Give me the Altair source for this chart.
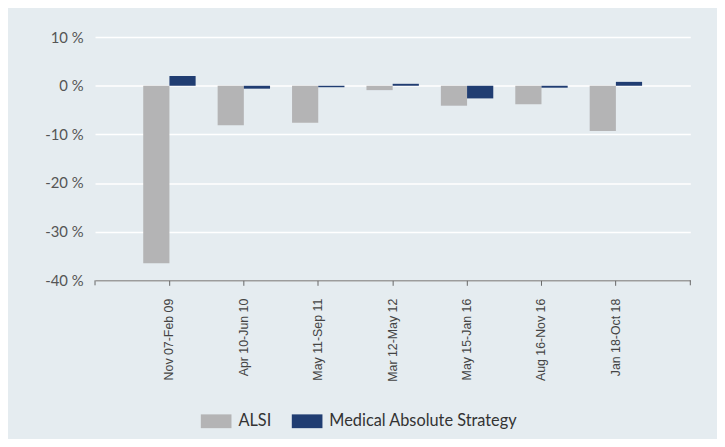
import altair as alt
import pandas as pd

periods = ["Nov 07-Feb 09", "Apr 10-Jun 10", "May 11-Sep 11", "Mar 12-May 12",
           "May 15-Jan 16", "Aug 16-Nov 16", "Jan 18-Oct 18"]
series_names = ["ALSI", "Medical Absolute Strategy"]
alsi = [-36.5, -8.1, -7.6, -0.9, -4.1, -3.8, -9.3]
mas = [2.0, -0.6, -0.3, 0.4, -2.6, -0.4, 0.8]
y_ticks = [-40, -30, -20, -10, 0, 10]
colors = ["#b4b4b5", "#203d72"]

rows = []
for p, a, m in zip(periods, alsi, mas):
    rows.append({"period": p, "series": series_names[0], "value": a})
    rows.append({"period": p, "series": series_names[1], "value": m})
df = pd.DataFrame(rows)

W, H = 602, 246

bars = alt.Chart(df).mark_bar().encode(
    x=alt.X("period:N", sort=periods, title=None,
            scale=alt.Scale(paddingInner=0, paddingOuter=0.5),
            axis=alt.Axis(labelAngle=-90, labelAlign="right", labelBaseline="middle",
                          labelFont="Liberation Sans", labelFontSize=12.5, labelColor="#444",
                          labelPadding=13, tickSize=5, tickColor="#666", domainColor="#666",
                          grid=False)),
    xOffset=alt.XOffset("series:N", sort=series_names,
                        scale=alt.Scale(paddingInner=0, paddingOuter=0.42)),
    y=alt.Y("value:Q", title=None,
            scale=alt.Scale(domain=[-40, 10], nice=False),
            axis=alt.Axis(values=y_ticks, labelExpr="datum.value + ' %'",
                          labelFont="Lato", labelFontSize=15, labelColor="#555",
                          labelPadding=12, ticks=False, domain=False,
                          grid=True, gridColor="#ffffff", gridWidth=1.5)),
    color=alt.Color("series:N", sort=series_names,
                    scale=alt.Scale(domain=series_names, range=colors),
                    legend=alt.Legend(title=None, orient="none", legendX=107, legendY=373,
                                      direction="horizontal", labelLimit=0,
                                      symbolType="M-1,-0.45H1V0.45H-1Z", symbolSize=961,
                                      symbolStrokeWidth=0, symbolOpacity=1,
                                      labelFont="Lato", labelFontSize=16.5, labelColor="#333",
                                      labelOffset=7, columnPadding=20)),
)

end_ticks = alt.Chart(pd.DataFrame({"k": [0, 1]})).mark_rule(color="#666").encode(
    x=alt.X("k:Q", scale=alt.Scale(domain=[0, 1], range=[0, W]), axis=None),
    y=alt.value(H), y2=alt.value(H + 5),
)

chart = alt.layer(bars, end_ticks).resolve_scale(x="independent").properties(
    width=W, height=H,
    autosize="none",
    padding={"left": 88, "top": 27, "right": 27, "bottom": 158},
    background="#e5ecf0",
).configure_view(stroke=None)

chart.save("out.html", embed_options={"renderer": "svg", "actions": False})
